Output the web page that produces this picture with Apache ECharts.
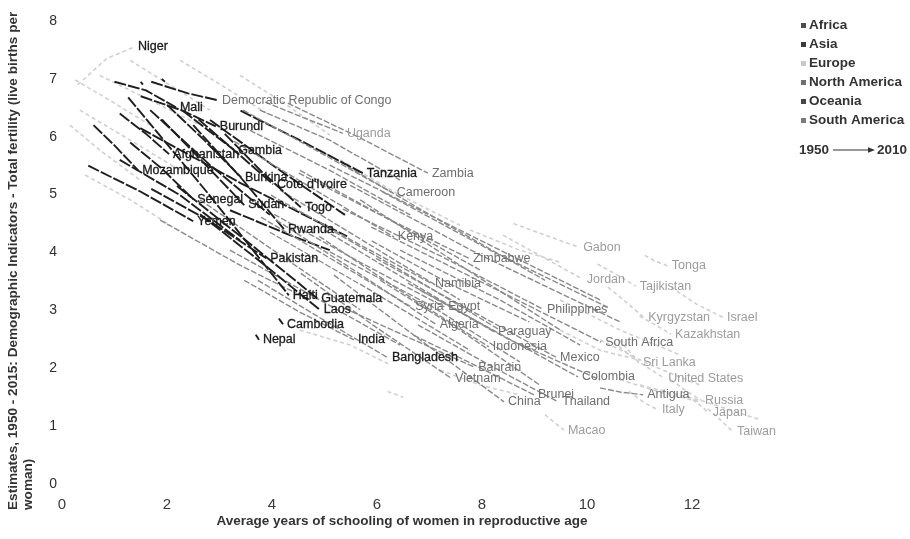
<!DOCTYPE html>
<html>
<head>
<meta charset="utf-8">
<script src="https://cdn.jsdelivr.net/npm/echarts@6/dist/echarts.min.js"></script>
<style>
  html, body { margin: 0; padding: 0; background: #ffffff; }
  #chart { width: 910px; height: 539px; }
</style>
</head>
<body>
<div id="chart"></div>
<script>
// Fertility vs. female schooling, trajectories 1950 -> 2010 (points: 1950, 1980, 2010)
const regions = ['Africa', 'Asia', 'Europe', 'North America', 'Oceania', 'South America'];
const xTicks = [0, 2, 4, 6, 8, 10, 12];
const yTicks = [0, 1, 2, 3, 4, 5, 6, 7, 8];

const africa = [
  ['Niger', [[0.3, 6.9], [0.85, 7.35], [1.37, 7.55]]],
  ['Mali', [[1.0, 6.95], [1.6, 6.8], [2.17, 6.51]]],
  ['Democratic Republic of Congo', [[1.7, 6.95], [2.4, 6.75], [2.97, 6.63]]],
  ['Burundi', [[1.5, 6.7], [2.3, 6.45], [2.93, 6.18]]],
  ['Uganda', [[3.87, 6.60], [4.63, 6.32], [5.35, 6.06]]],
  ['Gambia', [[2.3, 6.45], [2.8, 6.1], [3.28, 5.77]]],
  ['Mozambique', [[0.6, 6.2], [1.0, 5.85], [1.45, 5.42]]],
  ['Burkina', [[2.0, 6.55], [2.7, 5.95], [3.41, 5.30]]],
  ["Cote d'Ivoire", [[2.6, 6.3], [3.3, 5.75], [4.02, 5.18]]],
  ['Tanzania', [[3.4, 6.45], [4.53, 5.94], [5.73, 5.37]]],
  ['Zambia', [[4.30, 6.58], [5.68, 5.98], [6.97, 5.37]]],
  ['Cameroon', [[3.45, 6.46], [4.91, 5.73], [6.30, 5.03]]],
  ['Senegal', [[1.3, 5.9], [1.9, 5.45], [2.50, 4.92]]],
  ['Sudan', [[1.9, 6.3], [2.7, 5.55], [3.47, 4.82]]],
  ['Togo', [[3.1, 6.05], [3.8, 5.4], [4.55, 4.78]]],
  ['Rwanda', [[2.5, 6.2], [3.4, 5.3], [4.23, 4.40]]],
  ['Kenya', [[3.28, 5.92], [4.82, 5.08], [6.32, 4.27]]],
  ['Zimbabwe', [[4.51, 5.37], [6.15, 4.61], [7.75, 3.90]]],
  ['Namibia', [[3.98, 4.99], [5.52, 4.21], [7.03, 3.47]]],
  ['Egypt', [[4.04, 4.66], [5.68, 3.83], [7.28, 3.06]]],
  ['Algeria', [[4.08, 4.56], [5.62, 3.66], [7.12, 2.76]]],
  ['Gabon', [[8.6, 4.5], [9.2, 4.3], [9.85, 4.09]]],
  ['South Africa', [[5.89, 4.44], [8.10, 3.44], [10.27, 2.45]]]
];

const asia = [
  ['Afghanistan', [[1.1, 6.4], [1.6, 6.05], [2.04, 5.70]]],
  ['Yemen', [[0.5, 5.5], [1.5, 5.05], [2.50, 4.54]]],
  ['Pakistan', [[1.7, 5.1], [2.8, 4.55], [3.89, 3.90]]],
  ['Laos', [[2.63, 4.66], [3.81, 3.82], [4.91, 3.01]]],
  ['Cambodia', [[4.13, 2.86], [4.17, 2.81], [4.21, 2.76]]],
  ['Nepal', [[3.69, 2.58], [3.72, 2.54], [3.75, 2.49]]],
  ['India', [[3.47, 3.52], [4.53, 2.97], [5.56, 2.49]]],
  ['Bangladesh', [[3.73, 3.52], [4.99, 2.83], [6.21, 2.18]]],
  ['Syria', [[3.79, 4.61], [5.24, 3.83], [6.65, 3.06]]],
  ['Jordan', [[8.4, 4.3], [9.2, 3.9], [9.92, 3.54]]],
  ['Tajikistan', [[10.2, 3.8], [10.6, 3.6], [10.93, 3.42]]],
  ['Philippines', [[5.35, 4.75], [7.30, 3.90], [9.16, 3.02]]],
  ['Kyrgyzstan', [[10.4, 3.4], [10.8, 3.1], [11.09, 2.87]]],
  ['Israel', [[11.6, 3.4], [12.1, 3.1], [12.59, 2.88]]],
  ['Kazakhstan', [[11.0, 2.9], [11.3, 2.75], [11.60, 2.59]]],
  ['Indonesia', [[4.90, 4.28], [6.51, 3.30], [8.13, 2.37]]],
  ['Sri Lanka', [[10.6, 2.5], [10.8, 2.3], [10.99, 2.09]]],
  ['Bahrain', [[5.37, 3.04], [6.63, 2.52], [7.85, 2.02]]],
  ['Vietnam', [[4.55, 3.64], [5.98, 2.71], [7.41, 1.83]]],
  ['Brunei', [[6.70, 2.57], [7.85, 2.06], [8.99, 1.54]]],
  ['China', [[5.18, 3.61], [6.82, 2.49], [8.42, 1.42]]],
  ['Thailand', [[6.78, 2.75], [8.11, 2.07], [9.45, 1.42]]],
  ['Japan', [[11.8, 1.6], [12.1, 1.4], [12.32, 1.23]]],
  ['Macao', [[9.2, 1.2], [9.4, 1.05], [9.56, 0.93]]],
  ['Taiwan', [[12.3, 1.3], [12.55, 1.1], [12.78, 0.90]]]
];

const europe = [
  ['Russia', [[11.6, 1.8], [11.9, 1.6], [12.17, 1.45]]],
  ['Italy', [[10.8, 1.6], [11.1, 1.4], [11.35, 1.28]]]
];

const northAmerica = [
  ['Haiti', [[1.26, 6.68], [2.8, 5.0], [4.32, 3.26]]],
  ['Guatemala', [[2.19, 5.15], [3.54, 4.18], [4.86, 3.21]]],
  ['Mexico', [[5.98, 3.90], [7.70, 3.04], [9.41, 2.19]]],
  ['United States', [[10.5, 2.45], [11.0, 2.1], [11.47, 1.83]]],
  ['Antigua', [[10.25, 1.66], [10.63, 1.59], [11.07, 1.54]]]
];

const oceania = [
  ['Tonga', [[11.1, 3.95], [11.3, 3.85], [11.54, 3.77]]]
];

const southAmerica = [
  ['Paraguay', [[4.99, 4.39], [6.63, 3.49], [8.23, 2.63]]],
  ['Colombia', [[6.59, 3.47], [8.21, 2.66], [9.83, 1.85]]]
];

// Unlabelled trajectories, grouped by how strongly they are drawn
const otherStrong = [
  ['Africa', [[1.68, 6.46], [2.82, 5.51], [3.96, 4.65]]],
  ['Africa', [[1.49, 6.15], [3.40, 5.20], [5.43, 4.28]]],
  ['Africa', [[2.82, 6.29], [4.15, 5.42], [5.39, 4.65]]],
  ['Asia', [[1.10, 5.60], [2.25, 4.99], [3.39, 4.21]]],
  ['Africa', [[3.20, 4.73], [4.34, 4.30], [5.10, 4.04]]],
  ['Africa', [[1.50, 6.95], [1.52, 6.92], [1.54, 6.90]]],
  ['Africa', [[1.90, 7.00], [1.93, 6.97], [1.96, 6.95]]]
];

const otherMid = [
  ['Africa', [[4.91, 5.77], [7.01, 4.65], [9.20, 3.52]]],
  ['Africa', [[5.10, 5.51], [7.77, 4.30], [10.25, 3.18]]],
  ['Asia', [[5.49, 5.16], [7.96, 3.96], [10.63, 2.80]]],
  ['South America', [[5.68, 4.91], [7.58, 3.78], [9.49, 2.66]]],
  ['Africa', [[4.53, 5.42], [6.25, 4.56], [7.96, 3.70]]],
  ['Asia', [[4.15, 5.08], [5.87, 4.13], [7.58, 3.18]]],
  ['Africa', [[4.53, 4.70], [6.44, 3.70], [8.34, 2.66]]],
  ['Asia', [[3.96, 4.35], [5.87, 3.35], [7.77, 2.31]]],
  ['North America', [[5.10, 4.01], [7.01, 3.09], [8.72, 2.11]]],
  ['South America', [[6.06, 3.52], [7.58, 2.66], [9.10, 1.71]]],
  ['Africa', [[3.58, 6.11], [5.10, 5.42], [6.63, 4.65]]],
  ['Africa', [[3.77, 6.46], [5.10, 5.94], [6.44, 5.25]]],
  ['Asia', [[6.44, 4.04], [8.34, 3.18], [9.87, 2.40]]],
  ['South America', [[6.82, 3.35], [8.53, 2.49], [10.25, 1.80]]],
  ['Asia', [[3.20, 4.04], [4.91, 3.18], [6.44, 2.40]]],
  ['Africa', [[2.63, 4.91], [4.15, 3.96], [5.68, 3.01]]],
  ['Asia', [[1.87, 4.56], [3.39, 3.78], [4.72, 3.18]]],
  ['Africa', [[6.10, 5.05], [8.20, 4.02], [10.40, 3.05]]],
  ['Asia', [[5.90, 4.20], [7.40, 3.45], [8.90, 2.80]]]
];

const otherFaint = [
  ['Africa', [[0.25, 6.98], [0.91, 6.63], [1.68, 6.20]]],
  ['Africa', [[0.34, 6.46], [1.30, 5.94], [2.25, 5.42]]],
  ['Africa', [[0.15, 6.20], [0.72, 5.77], [1.49, 5.25]]],
  ['Africa', [[0.72, 7.06], [1.68, 6.63], [2.63, 6.20]]],
  ['Africa', [[1.30, 7.32], [2.06, 6.89], [2.82, 6.46]]],
  ['Asia', [[2.25, 7.32], [3.20, 6.80], [3.96, 6.37]]],
  ['Africa', [[0.44, 5.34], [1.30, 4.91], [2.06, 4.47]]],
  ['Africa', [[3.39, 7.06], [4.15, 6.63], [5.10, 6.03]]],
  ['Asia', [[5.30, 5.60], [6.44, 4.99], [7.58, 4.47]]],
  ['Asia', [[7.77, 4.39], [8.72, 4.04], [9.49, 3.83]]],
  ['Asia', [[4.53, 2.66], [5.49, 2.40], [6.25, 2.06]]],
  ['Asia', [[7.20, 1.97], [7.96, 1.71], [8.72, 1.54]]],
  ['Europe', [[10.63, 1.80], [11.39, 1.59], [12.15, 1.42]]],
  ['Europe', [[9.49, 2.66], [10.25, 2.31], [11.01, 2.14]]],
  ['Europe', [[9.49, 3.18], [10.63, 2.66], [11.77, 2.23]]],
  ['Europe', [[10.25, 2.49], [11.20, 2.06], [12.15, 1.71]]],
  ['Europe', [[11.01, 1.71], [12.15, 1.45], [13.30, 1.11]]],
  ['Asia', [[6.20, 1.60], [6.35, 1.55], [6.50, 1.50]]]
];

// Drawing emphasis
const strongLines = new Set(['Mali', 'Democratic Republic of Congo', 'Burundi', 'Gambia', 'Mozambique',
  'Burkina', "Cote d'Ivoire", 'Tanzania', 'Senegal', 'Sudan', 'Togo', 'Rwanda', 'Afghanistan', 'Yemen',
  'Pakistan', 'Laos', 'Cambodia', 'Nepal', 'Haiti', 'Guatemala']);
const faintLines = new Set(['Niger', 'Gabon', 'Tonga', 'Jordan', 'Tajikistan', 'Kyrgyzstan', 'Israel',
  'Kazakhstan', 'Sri Lanka', 'United States', 'Russia', 'Italy', 'Japan', 'Macao', 'Taiwan']);
const strongLabels = new Set(['Niger', 'Mali', 'Burundi', 'Afghanistan',
  'Gambia', 'Mozambique', 'Burkina', "Cote d'Ivoire", 'Tanzania', 'Senegal', 'Sudan', 'Togo', 'Yemen',
  'Rwanda', 'Pakistan', 'Haiti', 'Guatemala', 'Laos', 'Cambodia', 'Nepal', 'India', 'Bangladesh']);
const faintLabels = new Set(['Uganda', 'Gabon', 'Tonga', 'Jordan', 'Tajikistan', 'Kyrgyzstan', 'Israel',
  'Kazakhstan', 'Sri Lanka', 'United States', 'Russia', 'Italy', 'Japan', 'Macao', 'Taiwan']);

const regionSwatch = {
  'Africa': '#4d4d4d', 'Asia': '#3a3a3a', 'Europe': '#c9c9c9',
  'North America': '#707070', 'Oceania': '#464646', 'South America': '#7a7a7a'
};
const FONT = '"Liberation Sans", Arial, Helvetica, sans-serif';

const tone = {
  strong: { color: '#1e1e1e', width: 1.9, z: 4, dash: [12, 2] },
  mid: { color: '#8a8a8a', width: 1.4, z: 3, dash: [6, 2] },
  faint: { color: '#d0d0d0', width: 1.6, z: 2, dash: [4, 3] }
};

function lineSeries(region, path, t, labelText) {
  const s = {
    type: 'line',
    name: region,
    data: path,
    showSymbol: false,
    symbol: 'none',
    silent: true,
    z: t.z,
    lineStyle: { color: t.color, width: t.width, type: t.dash },
    itemStyle: { color: t.color }
  };
  if (labelText) {
    const strong = strongLabels.has(labelText);
    const faint = faintLabels.has(labelText);
    const c = strong ? '#1a1a1a' : (faint ? '#9c9c9c' : '#6e6e6e');
    s.z = 6;
    s.endLabel = {
      show: true,
      formatter: labelText,
      distance: 4,
      fontFamily: FONT,
      fontSize: 12.5,
      color: c,
      textBorderColor: strong ? c : 'transparent',
      textBorderWidth: strong ? 0.3 : 0
    };
  }
  return s;
}

const series = [];
otherFaint.forEach(([r, p]) => series.push(lineSeries(r, p, tone.faint)));
otherMid.forEach(([r, p]) => series.push(lineSeries(r, p, tone.mid)));
otherStrong.forEach(([r, p]) => series.push(lineSeries(r, p, tone.strong)));

const groups = [
  ['Africa', africa], ['Asia', asia], ['Europe', europe],
  ['North America', northAmerica], ['Oceania', oceania], ['South America', southAmerica]
];
groups.forEach(([region, list]) => {
  list.forEach(([name, path]) => {
    const t = strongLines.has(name) ? tone.strong : (faintLines.has(name) ? tone.faint : tone.mid);
    series.push(lineSeries(region, path, t, name));
  });
});

const chart = echarts.init(document.getElementById('chart'), null, { renderer: 'canvas' });
chart.setOption({
  animation: false,
  backgroundColor: '#ffffff',
  grid: { left: 62, right: 113, top: 21, bottom: 55, containLabel: false },
  xAxis: {
    type: 'value', min: 0, max: 14, interval: 2,
    axisLine: { show: false }, axisTick: { show: false }, splitLine: { show: false },
    axisLabel: {
      margin: 13, fontSize: 15, color: '#3a3a3a', fontFamily: FONT,
      formatter: v => (xTicks.includes(v) ? String(v) : '')
    }
  },
  yAxis: {
    type: 'value', min: 0, max: 8, interval: 1,
    axisLine: { show: false }, axisTick: { show: false }, splitLine: { show: false },
    axisLabel: {
      margin: 5, fontSize: 14, color: '#2e2e2e', fontFamily: FONT,
      formatter: v => (yTicks.includes(v) ? String(v) : '')
    }
  },
  legend: {
    data: regions.map(r => ({ name: r, itemStyle: { color: regionSwatch[r] } })),
    orient: 'vertical', left: 796, top: 13.5,
    icon: 'rect', itemWidth: 5, itemHeight: 5, itemGap: 5,
    selectedMode: false,
    textStyle: { fontFamily: FONT, fontSize: 13.5, fontWeight: 'bold', color: '#333333', padding: [0, 0, 0, -2] }
  },
  graphic: [
    {
      type: 'text', x: 6, y: 510, rotation: Math.PI / 2,
      style: {
        text: 'Estimates, 1950 - 2015: Demographic Indicators - Total fertility (live births per\nwoman)',
        font: 'bold 13.6px ' + FONT, fill: '#333333',
        textAlign: 'left', textVerticalAlign: 'top', lineHeight: 15
      }
    },
    {
      type: 'text', x: 402, y: 521,
      style: {
        text: 'Average years of schooling of women in reproductive age',
        font: 'bold 13.5px ' + FONT, fill: '#333333',
        textAlign: 'center', textVerticalAlign: 'middle'
      }
    },
    {
      type: 'text', x: 799, y: 150,
      style: { text: '1950', font: 'bold 13.5px ' + FONT, fill: '#333333', textAlign: 'left', textVerticalAlign: 'middle' }
    },
    {
      type: 'line', shape: { x1: 833, y1: 150, x2: 870, y2: 150 },
      style: { stroke: '#333333', lineWidth: 1.2 }
    },
    {
      type: 'polygon', shape: { points: [[875, 150], [868, 147.3], [868, 152.7]] },
      style: { fill: '#333333' }
    },
    {
      type: 'text', x: 877, y: 150,
      style: { text: '2010', font: 'bold 13.5px ' + FONT, fill: '#333333', textAlign: 'left', textVerticalAlign: 'middle' }
    }
  ],
  series: series
});
</script>
</body>
</html>
